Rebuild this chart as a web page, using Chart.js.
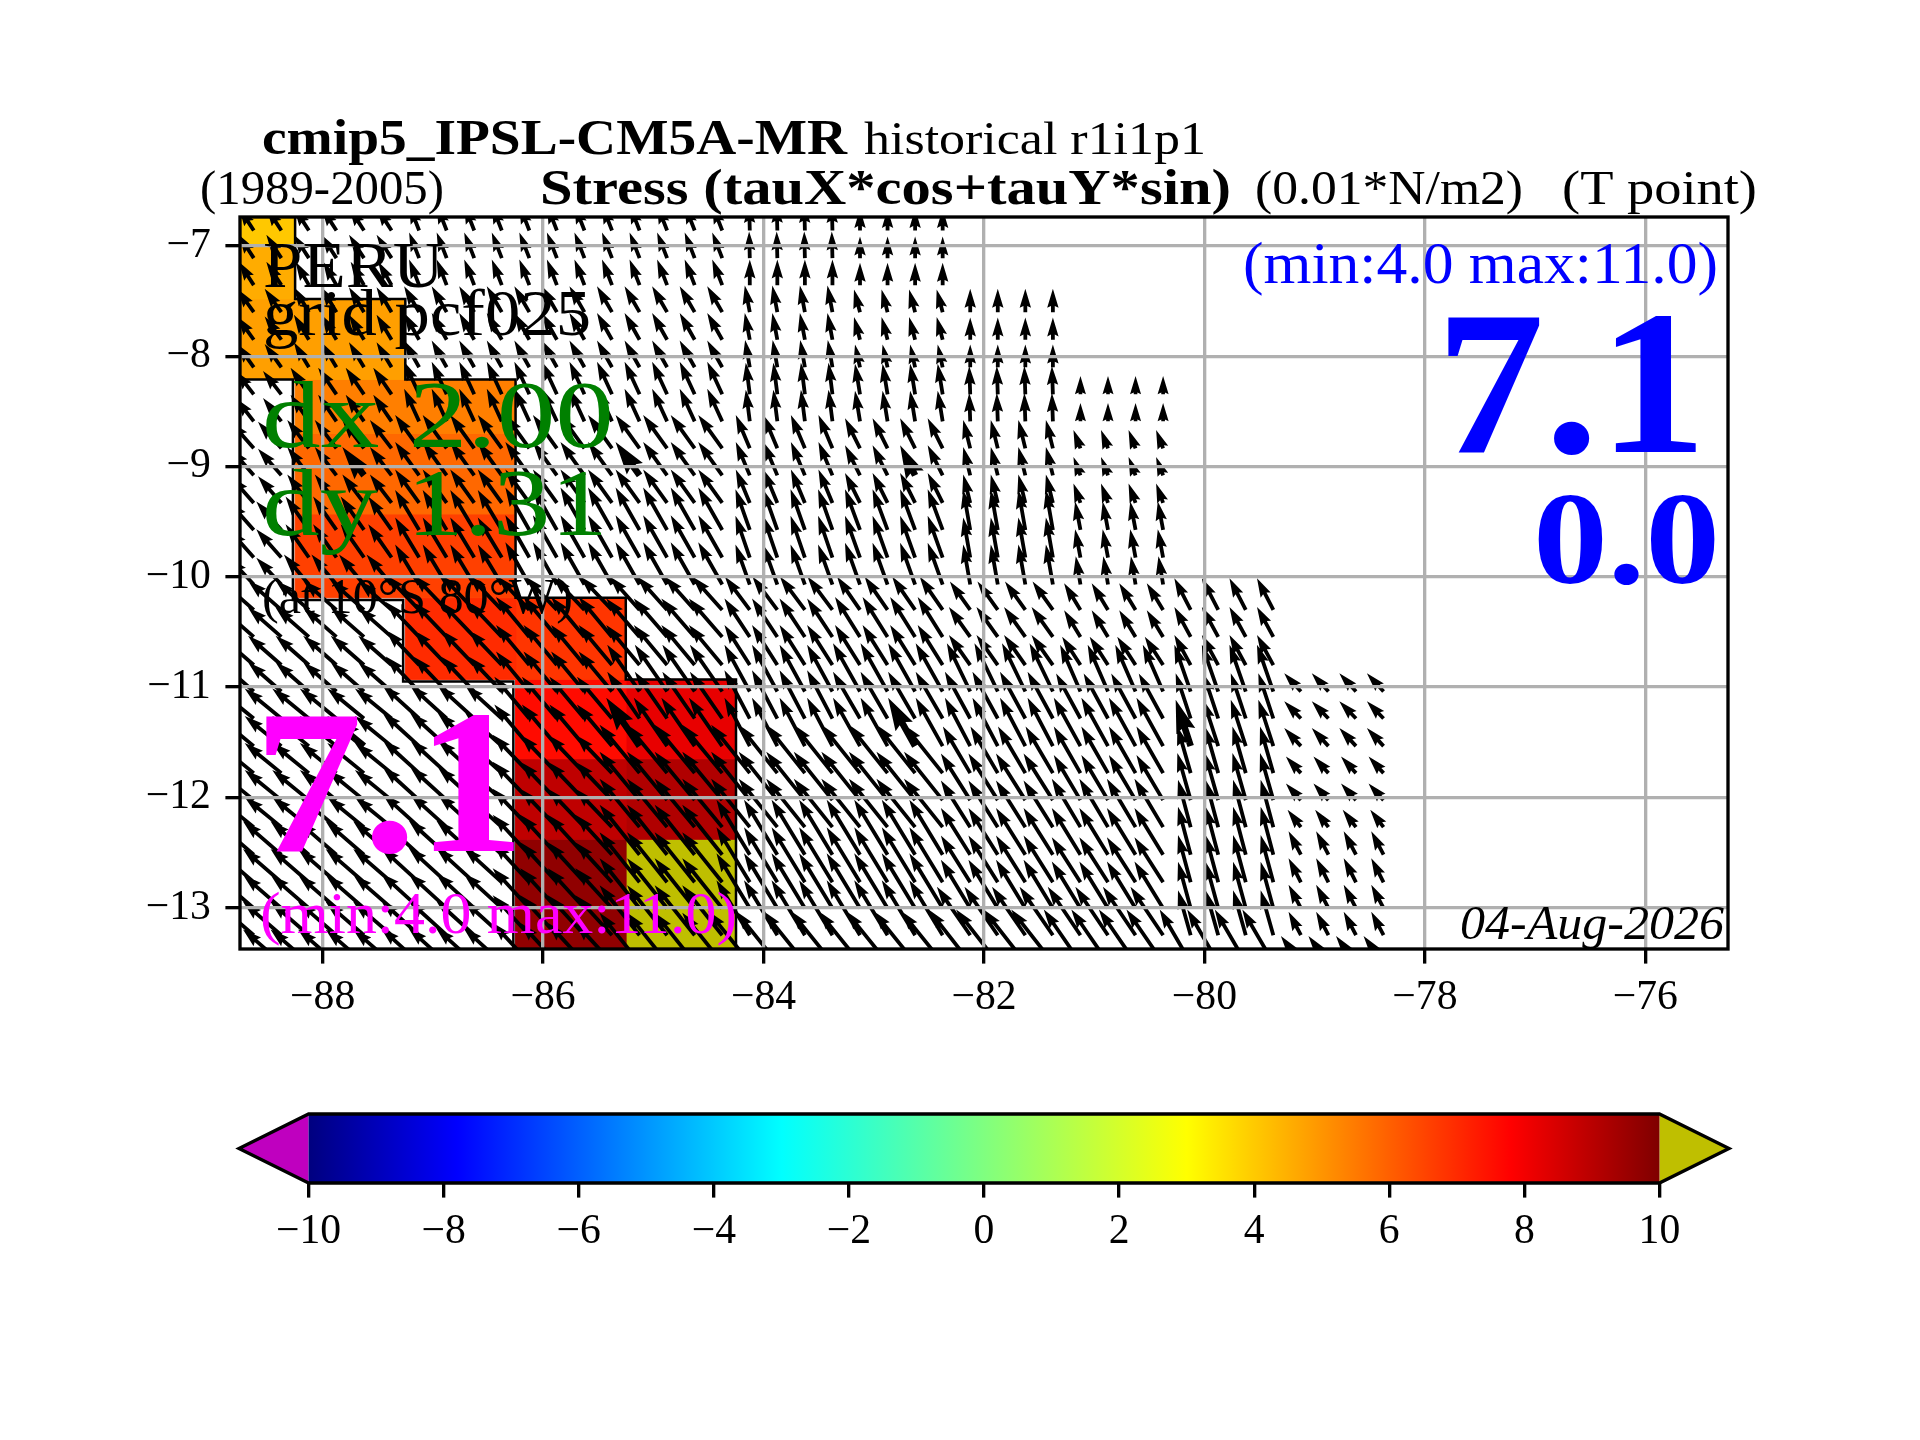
<!DOCTYPE html>
<html>
<head>
<meta charset="utf-8">
<title>cmip5_IPSL-CM5A-MR Stress</title>
<script src="https://cdn.jsdelivr.net/npm/chart.js@4/dist/chart.umd.js"></script>
<style>
    html, body { margin: 0; padding: 0; background: #ffffff; }
    #stage { position: relative; width: 1920px; height: 1440px; overflow: hidden; }
    #mapCanvas { position: absolute; left: 0; top: 0; }
    #barCanvas { position: absolute; left: 0; top: 1060px; }
</style>
</head>
<body>
<div id="stage">
    <canvas id="mapCanvas" width="1920" height="1440"></canvas>
    <canvas id="barCanvas" width="1920" height="300"></canvas>
</div>
<script>
const n = null;

const xTicks = [-88, -86, -84, -82, -80, -78, -76];
const yTicks = [-13, -12, -11, -10, -9, -8, -7];
const barTicks = [-10, -8, -6, -4, -2, 0, 2, 4, 6, 8, 10];

// colormap of the bar
const cmapValues = [-10, -7.8, -3, 3, 7.8, 10];
const cmapColors = [[0, 0, 127], [0, 0, 255], [0, 255, 255], [255, 255, 0], [255, 0, 0], [127, 0, 0]];
const underColor = '#bf00bf';
const overColor = '#bfbf00';

// coloured cells of the stress field
const cellWest = [-88.75, -88.75, -88.75, -88.25, -88.25, -88.25, -87.25, -86.25, -86.25, -85.25, -86.25, -85.25, -86.25, -85.25];
const cellEast = [-88.25, -88.25, -87.25, -86.25, -86.25, -86.25, -86.25, -85.25, -85.25, -84.25, -85.25, -84.25, -85.25, -84.25];
const cellNorth = [-6.74, -7.0, -7.48, -8.21, -8.7, -9.43, -10.19, -10.19, -10.93, -10.93, -11.65, -11.65, -12.38, -12.38];
const cellSouth = [-7.0, -7.48, -8.21, -8.7, -9.43, -10.19, -10.93, -10.93, -11.65, -11.65, -12.38, -12.38, -13.38, -13.38];
const cellValues = [4.04, 4.56, 4.8, 5.4, 5.85, 6.6, 7.0, 6.8, 7.6, 8.2, 8.9, 9.15, 9.7, 10.5];

// contour around the cells
const outlineEastLon = [-88.25, -88.25, -87.25, -87.25, -86.25, -86.25, -85.25, -85.25, -84.25, -84.25];
const outlineEastLat = [-6.74, -7.48, -7.48, -8.21, -8.21, -10.19, -10.19, -10.93, -10.93, -13.38];
const outlineWestLon = [-88.75, -88.27, -88.27, -87.27, -87.27, -86.27, -86.27];
const outlineWestLat = [-8.21, -8.21, -10.21, -10.21, -10.95, -10.95, -13.38];

// arrow tails
const arrowLons = [-88.625, -88.375, -88.125, -87.875, -87.625, -87.375, -87.125, -86.875, -86.625, -86.375, -86.125,
    -85.875, -85.625, -85.375, -85.125, -84.875, -84.625, -84.375, -84.125, -83.875, -83.625, -83.375, -83.125,
    -82.875, -82.625, -82.375, -82.125, -81.875, -81.625, -81.375, -81.125, -80.875, -80.625, -80.375, -80.125,
    -79.875, -79.625, -79.375, -79.125, -78.875, -78.625, -78.375];
const arrowLats = [-6.86, -7.11, -7.355, -7.6, -7.85, -8.1, -8.345, -8.59, -8.835, -9.08, -9.33, -9.575, -9.825, -10.07,
    -10.3, -10.545, -10.8, -11.04, -11.285, -11.535, -11.78, -12.025, -12.27, -12.52, -12.77, -13.005, -13.25, -13.5];

// first and last arrow column of each block of the source grid
const blockFirstCol = [0, 2, 6, 10, 14, 18, 22, 26, 30, 34, 38];
const blockLastCol = [1, 5, 9, 13, 17, 21, 25, 29, 33, 37, 41];

// one row per arrowLats entry, one column per block
const arrowU = [
    [-45, -45, -30, -30, -30, -2, 0, n, n, n, n],
    [-45, -45, -30, -30, -30, -2, 0, n, n, n, n],
    [-45, -40, -30, -30, -30, 0, 0, n, n, n, n],
    [-50, -45, -45, -45, -45, -15, -18, 0, n, n, n],
    [-50, -45, -45, -45, -45, -15, -18, 0, n, n, n],
    [-50, -45, -45, -45, -45, -14, -15, 0, n, n, n],
    [-55, -55, -45, -45, -45, -12, -15, -3, 0, n, n],
    [-55, -55, -45, -45, -45, -12, -15, -3, 0, n, n],
    [-70, -65, -72, -72, -72, -42, -45, -21, -21, n, n],
    [-70, -65, -72, -72, -72, -42, -45, -21, -21, n, n],
    [-70, -65, -72, -72, -72, -42, -45, -21, -21, n, n],
    [-75, -70, -72, -72, -72, -43, -45, -21, -16, n, n],
    [-75, -70, -72, -72, -72, -43, -45, -21, -16, n, n],
    [-75, -75, -72, -72, -72, -43, -45, -21, -14, n, n],
    [-100, -100, -100, -95, -90, -75, -69, -61, -49, -49, n],
    [-100, -100, -100, -100, -100, -76, -75, -64, -49, -49, n],
    [-100, -100, -100, -100, -100, -76, -75, -64, -55, -49, n],
    [-100, -100, -100, -100, -97, -76, -81, -70, -61, -49, -50],
    [-110, -110, -110, -105, -97, -76, -81, -76, -73, -45, -50],
    [-110, -110, -110, -105, -100, -76, -81, -76, -80, -45, -50],
    [-110, -110, -110, -110, -120, -116, -116, -82, -80, -40, -45],
    [-110, -110, -110, -110, -120, -116, -116, -88, -80, -40, -45],
    [-110, -110, -110, -110, -120, -116, -116, -88, -86, -38, -40],
    [-115, -115, -115, -110, -120, -100, -100, -88, -86, -38, -37],
    [-115, -115, -115, -110, -120, -100, -100, -88, -86, -38, -37],
    [-115, -115, -115, -110, -120, -100, -100, -88, -86, -38, -37],
    [-115, -115, -115, -110, -120, -100, -100, -100, -98, -38, -37],
    [-115, -115, -115, -110, -120, -125, -125, -125, -110, -93, -60]
];
const arrowV = [
    [70, 70, 77, 77, 77, 80, 65, n, n, n, n],
    [70, 70, 77, 77, 77, 80, 65, n, n, n, n],
    [70, 70, 77, 77, 77, 77, 67, n, n, n, n],
    [70, 75, 78, 78, 78, 80, 68, 70, n, n, n],
    [70, 75, 80, 80, 80, 80, 68, 67, n, n, n],
    [70, 75, 80, 80, 80, 82, 68, 68, n, n, n],
    [70, 80, 98, 98, 98, 95, 92, 85, 55, n, n],
    [70, 80, 98, 98, 98, 95, 92, 85, 55, n, n],
    [80, 85, 100, 100, 100, 100, 90, 85, 55, n, n],
    [80, 85, 100, 100, 100, 100, 90, 85, 55, n, n],
    [80, 85, 100, 100, 100, 100, 90, 85, 58, n, n],
    [85, 100, 120, 127, 127, 122, 122, 120, 85, n, n],
    [85, 100, 120, 127, 127, 125, 125, 120, 85, n, n],
    [80, 90, 120, 127, 127, 120, 125, 120, 85, n, n],
    [88, 88, 105, 100, 100, 100, 100, 85, 80, 95, n],
    [88, 88, 105, 120, 115, 115, 120, 90, 80, 90, n],
    [88, 88, 105, 120, 120, 120, 120, 90, 85, 90, n],
    [88, 88, 105, 120, 140, 140, 145, 145, 140, 140, 55],
    [90, 90, 100, 125, 140, 145, 140, 140, 135, 136, 52],
    [90, 90, 100, 125, 145, 145, 145, 145, 145, 139, 54],
    [90, 90, 100, 115, 145, 145, 145, 140, 140, 140, 50],
    [90, 90, 100, 115, 145, 145, 145, 140, 135, 141, 50],
    [90, 90, 100, 115, 145, 145, 145, 140, 145, 142, 52],
    [100, 100, 105, 120, 150, 165, 165, 140, 140, 144, 70],
    [100, 100, 105, 120, 150, 165, 165, 140, 135, 142, 72],
    [100, 100, 105, 120, 150, 165, 165, 145, 140, 139, 70],
    [100, 100, 105, 120, 150, 165, 165, 145, 145, 135, 70],
    [100, 100, 105, 120, 150, 155, 155, 160, 160, 160, 80]
];
const arrowScale = 0.003025; // degrees per unit of arrowU / arrowV

// the heavier arrows on the reference lattice
const wideCols = [4, 14, 24, 4, 14, 24, 34];
const wideRows = [9, 9, 9, 19, 19, 19, 19];

const SERIF = '"Liberation Serif", "DejaVu Serif", serif';
const LABELS = [
    { text: 'cmip5_IPSL-CM5A-MR', x: 262, y: 154, size: 50, weight: 'bold', width: 585 },
    { text: 'historical r1i1p1', x: 864, y: 154, size: 46, width: 342 },
    { text: '(1989-2005)', x: 200, y: 204, size: 48, width: 244 },
    { text: 'Stress (tauX*cos+tauY*sin)', x: 540, y: 204, size: 50, weight: 'bold', width: 691 },
    { text: '(0.01*N/m2)', x: 1255, y: 204, size: 48, width: 268 },
    { text: '(T point)', x: 1562, y: 204, size: 48, width: 195 },
    { text: 'PERU', x: 263, y: 287, size: 66, width: 181 },
    { text: 'grid pcf025', x: 263, y: 335, size: 66, width: 328 },
    { text: 'dx 2.00', x: 262, y: 447, size: 96, color: '#008000', width: 352 },
    { text: 'dy 1.31', x: 262, y: 535, size: 96, color: '#008000', width: 346 },
    { text: '(at 10\u00b0S 80\u00b0W)', x: 262, y: 613, size: 50, width: 311 },
    { text: '(min:4.0 max:11.0)', x: 1243, y: 283, size: 59, color: '#0000ff', width: 475 },
    { text: '7.1', x: 1436, y: 452, size: 205, weight: 'bold', color: '#0000ff', width: 271 },
    { text: '0.0', x: 1533, y: 583, size: 132, weight: 'bold', color: '#0000ff', width: 187 },
    { text: '7.1', x: 254, y: 851, size: 205, weight: 'bold', color: '#ff00ff', width: 271 },
    { text: '(min:4.0 max:11.0)', x: 260, y: 933, size: 59, color: '#ff00ff', width: 477 },
    { text: '04-Aug-2026', x: 1460, y: 939, size: 48, style: 'italic', width: 264 }
];

function jetColor(value) {
    if (value > cmapValues[cmapValues.length - 1]) return overColor;
    if (value < cmapValues[0]) return underColor;
    let k = 0;
    while (k < cmapValues.length - 2 && value > cmapValues[k + 1]) k++;
    const t = (value - cmapValues[k]) / (cmapValues[k + 1] - cmapValues[k]);
    const c = cmapColors[k].map((a, m) => Math.round(a + (cmapColors[k + 1][m] - a) * t));
    return `rgb(${c[0]}, ${c[1]}, ${c[2]})`;
}

function polygon(points, color, edge) {
    return {
        data: points.map(p => ({ x: p[0], y: p[1] })),
        showLine: true,
        fill: 'shape',
        backgroundColor: color,
        borderColor: color,
        borderWidth: edge,
        pointRadius: 0
    };
}

function outline(lons, lats, width) {
    return {
        data: lons.map((lon, k) => ({ x: lon, y: lats[k] })),
        showLine: true,
        fill: false,
        borderColor: '#000000',
        borderWidth: width,
        pointRadius: 0
    };
}

function buildArrows() {
    const points = [];
    arrowLats.forEach((lat, j) => {
        blockFirstCol.forEach((first, b) => {
            if (arrowU[j][b] === null) return;
            for (let i = first; i <= blockLastCol[b]; i++) {
                const wide = wideCols.some((c, k) => c === i && wideRows[k] === j);
                points.push({ x: arrowLons[i], y: lat, u: arrowU[j][b], v: arrowV[j][b], wide: wide });
            }
        });
    });
    return points;
}

// same arrow outline as a quiver with pivot at the tail
function traceArrow(ctx, x0, y0, x1, y1, w) {
    const len = Math.hypot(x1 - x0, y1 - y0);
    const headLen = 5 * w;
    const axisLen = 4.5 * w;
    const shrink = len < headLen ? len / headLen : 1;
    const ux = (x1 - x0) / len;
    const uy = (y1 - y0) / len;
    const hw = w * shrink / 2;
    const shape = [
        [0, hw], [len - axisLen * shrink, hw], [len - headLen * shrink, 3 * hw], [len, 0],
        [len - headLen * shrink, -3 * hw], [len - axisLen * shrink, -hw], [0, -hw]
    ];
    shape.forEach((p, k) => {
        const px = x0 + ux * p[0] - uy * p[1];
        const py = y0 + uy * p[0] + ux * p[1];
        if (k === 0) ctx.moveTo(px, py); else ctx.lineTo(px, py);
    });
    ctx.closePath();
}

const quiverPlugin = {
    id: 'quiver',
    afterDatasetsDraw(chart) {
        const { ctx, chartArea, scales } = chart;
        const index = chart.data.datasets.findIndex(d => d.label === 'arrows');
        const elements = chart.getDatasetMeta(index).data;
        const source = chart.data.datasets[index].data;
        ctx.save();
        ctx.beginPath();
        ctx.rect(chartArea.left, chartArea.top, chartArea.right - chartArea.left, chartArea.bottom - chartArea.top);
        ctx.clip();
        ctx.fillStyle = '#000000';
        ctx.beginPath();
        elements.forEach((el, k) => {
            const d = source[k];
            const tipX = scales.x.getPixelForValue(d.x + d.u * arrowScale);
            const tipY = scales.y.getPixelForValue(d.y + d.v * arrowScale);
            traceArrow(ctx, el.x, el.y, tipX, tipY, d.wide ? 6.6 : 3.8);
        });
        ctx.fill();
        ctx.restore();
    }
};

function drawLabel(ctx, label) {
    ctx.font = `${label.style || 'normal'} ${label.weight || 'normal'} ${label.size}px ${SERIF}`;
    ctx.fillStyle = label.color || '#000000';
    const natural = ctx.measureText(label.text).width;
    ctx.save();
    ctx.translate(label.x, label.y);
    ctx.scale(label.width / natural, 1);
    ctx.fillText(label.text, 0, 0);
    ctx.restore();
}

const framePlugin = {
    id: 'frame',
    afterDraw(chart) {
        const { ctx, chartArea } = chart;
        ctx.save();
        ctx.strokeStyle = '#000000';
        ctx.lineWidth = 3.33;
        ctx.strokeRect(chartArea.left, chartArea.top, chartArea.right - chartArea.left, chartArea.bottom - chartArea.top);
        ctx.textAlign = 'left';
        ctx.textBaseline = 'alphabetic';
        LABELS.forEach(label => drawLabel(ctx, label));
        ctx.restore();
    }
};

function tickLabel(value) {
    return value < 0 ? '\u2212' + Math.abs(value) : String(value);
}

function axisOptions(ticks, min, max, vertical) {
    return {
        type: 'linear',
        min: min,
        max: max,
        afterBuildTicks: scale => { scale.ticks = ticks.map(v => ({ value: v })); },
        afterFit: scale => { if (vertical) scale.width = 130; else scale.height = 110; },
        grid: { color: '#b0b0b0', lineWidth: 3.33, tickColor: '#000000', tickWidth: 3.33, tickLength: 14.6, z: 1 },
        border: { display: false },
        ticks: {
            autoSkip: false,
            maxRotation: 0,
            padding: vertical ? 14.6 : 9.6,
            color: '#000000',
            font: { family: SERIF, size: 41.67 },
            callback: tickLabel
        }
    };
}

// datasets are painted last to first, so the contours go before the cells
const mapDatasets = [
    outline(outlineEastLon, outlineEastLat, 2.5),
    outline(outlineWestLon, outlineWestLat, 2.5)
];
cellValues.forEach((value, k) => mapDatasets.push(polygon([
    [cellWest[k], cellNorth[k]], [cellEast[k], cellNorth[k]], [cellEast[k], cellSouth[k]], [cellWest[k], cellSouth[k]], [cellWest[k], cellNorth[k]]
], jetColor(value), 1)));
mapDatasets.push({ label: 'arrows', data: buildArrows(), pointRadius: 0, showLine: false });

new Chart(document.getElementById('mapCanvas'), {
    type: 'scatter',
    data: { datasets: mapDatasets },
    plugins: [quiverPlugin, framePlugin],
    options: {
        responsive: false,
        animation: false,
        devicePixelRatio: 1,
        events: [],
        layout: { padding: { left: 110, right: 192, top: 217, bottom: 381 } },
        plugins: { legend: { display: false }, tooltip: { enabled: false }, title: { display: false } },
        scales: {
            x: axisOptions(xTicks, -88.75, -75.25, false),
            y: axisOptions(yTicks, -13.375, -6.737, true)
        }
    }
});

function barGradient(context) {
    const chart = context.chart;
    if (!chart.chartArea) return '#808080';
    const x = chart.scales.x;
    const x0 = x.getPixelForValue(cmapValues[0]);
    const x1 = x.getPixelForValue(cmapValues[cmapValues.length - 1]);
    const gradient = chart.ctx.createLinearGradient(x0, 0, x1, 0);
    cmapValues.forEach((v, k) => {
        const c = cmapColors[k];
        gradient.addColorStop((v - cmapValues[0]) / (cmapValues[cmapValues.length - 1] - cmapValues[0]), `rgb(${c[0]}, ${c[1]}, ${c[2]})`);
    });
    return gradient;
}

const barLimit = 10;
const barTip = 11.03;
const barOutlineX = [-barLimit, -barTip, -barLimit, barLimit, barTip, barLimit, -barLimit];
const barOutlineY = [0, 0.5, 1, 1, 0.5, 0, 0];

const barBody = polygon([[-barLimit, 0], [barLimit, 0], [barLimit, 1], [-barLimit, 1], [-barLimit, 0]], barGradient, 0);
const barUnder = polygon([[-barLimit, 0], [-barTip, 0.5], [-barLimit, 1], [-barLimit, 0]], underColor, 0);
const barOver = polygon([[barLimit, 0], [barTip, 0.5], [barLimit, 1], [barLimit, 0]], overColor, 0);
const barEdge = outline(barOutlineX, barOutlineY, 3.33);
barEdge.clip = false;

const barX = axisOptions(barTicks, -barTip, barTip, false);
barX.grid.drawOnChartArea = false;

new Chart(document.getElementById('barCanvas'), {
    type: 'scatter',
    data: { datasets: [barEdge, barBody, barUnder, barOver] },
    options: {
        responsive: false,
        animation: false,
        devicePixelRatio: 1,
        events: [],
        layout: { padding: { left: 239, right: 191, top: 54, bottom: 67 } },
        plugins: { legend: { display: false }, tooltip: { enabled: false } },
        scales: {
            x: barX,
            y: { type: 'linear', min: 0, max: 1, display: false }
        }
    }
});
</script>
</body>
</html>
